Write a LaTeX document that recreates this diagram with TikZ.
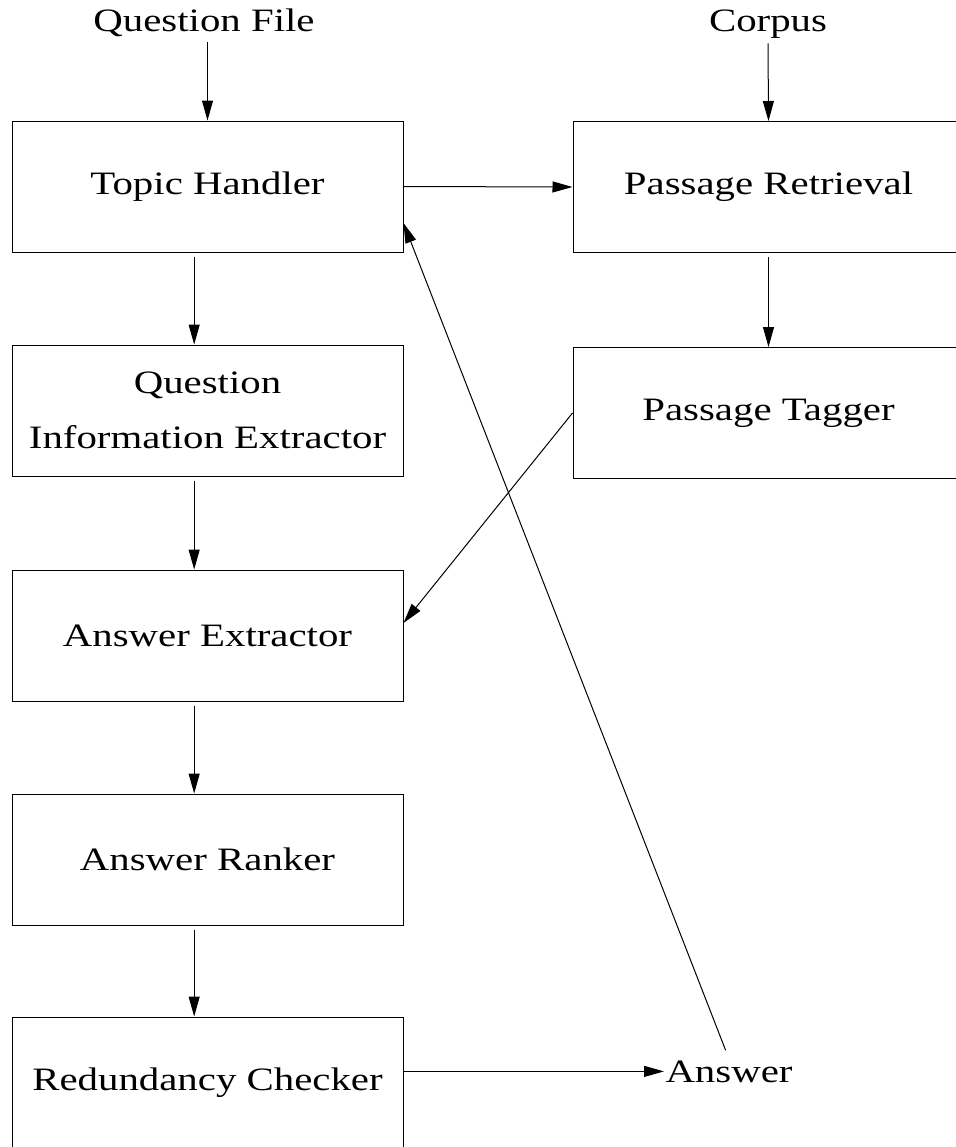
\documentclass[tikz,border=0pt]{standalone}
\usepackage{fontspec}
\setmainfont{Liberation Serif}
\usetikzlibrary{arrows.meta}

\newcommand{\stretchtext}[1]{\scalebox{1.25}[1]{#1}}

\tikzset{every picture/.style={line width=0.75pt}}
\tikzset{
  blockbox/.style={draw, minimum width=293.25pt, minimum height=98.25pt, inner sep=0pt, align=center},
  labeltext/.style={inner sep=0.75pt},
  flowarrow/.style={-{Triangle[length=15pt,width=8.25pt]}},
  gaparrow/.style={flowarrow, shorten <=3pt}
}

\begin{document}
\begin{tikzpicture}[x=0.75pt,y=0.75pt,yscale=-1,xscale=1,font=\fontsize{24.5}{41}\selectfont]
\useasboundingbox (0,0) rectangle (956,1147);

%Shape: Rectangle [left column]
\node [blockbox] (topic) at (207.5,186.5) {\stretchtext{Topic Handler}};
\node [blockbox] (qinfo) at (207.5,410.5) {\stretchtext{Question}\\\stretchtext{Information Extractor}};
\node [blockbox] (extractor) at (207.5,635.5) {\stretchtext{Answer Extractor}};
\node [blockbox] (ranker) at (207.5,859.5) {\stretchtext{Answer Ranker}};
\node [blockbox] (redundancy) at (207.5,1082.5) {\stretchtext{Redundancy Checker}};
%Shape: Rectangle [right column]
\node [blockbox] (retrieval) at (768.5,187) {\stretchtext{Passage Retrieval}};
\node [blockbox] (tagger) at (768.5,413) {\stretchtext{Passage Tagger}};

% Text Node
\node [labeltext, anchor=base] (qfile) at (204,31) {\stretchtext{Question File}};
% Text Node
\node [labeltext, anchor=base] (corpus) at (768,31) {\stretchtext{Corpus}};
% Text Node
\node [labeltext, anchor=base west] (answer) at (664,1082) {\stretchtext{Answer}};

%Straight Lines
\draw [gaparrow] (topic.north |- qfile.south) -- (topic.north);
\draw [gaparrow] (corpus.south) -- (retrieval.north);
\draw [flowarrow] (topic.east) -- (retrieval.west);
\draw [gaparrow] (retrieval.south) -- (tagger.north);
\draw [gaparrow] ([xshift=-10pt]topic.south) -- ([xshift=-10pt]qinfo.north);
\draw [gaparrow] ([xshift=-10pt]qinfo.south) -- ([xshift=-10pt]extractor.north);
\draw [gaparrow] ([xshift=-10pt]extractor.south) -- ([xshift=-10pt]ranker.north);
\draw [gaparrow] ([xshift=-10pt]ranker.south) -- ([xshift=-10pt]redundancy.north);
\draw [flowarrow] (tagger.west) -- ([yshift=-9.4pt]extractor.east);
\draw [flowarrow] (answer.west -| redundancy.east) -- (answer.west);
\draw [flowarrow, shorten <=7pt] (answer.north) -- ([yshift=27.4pt]topic.east);

\end{tikzpicture}
\end{document}
